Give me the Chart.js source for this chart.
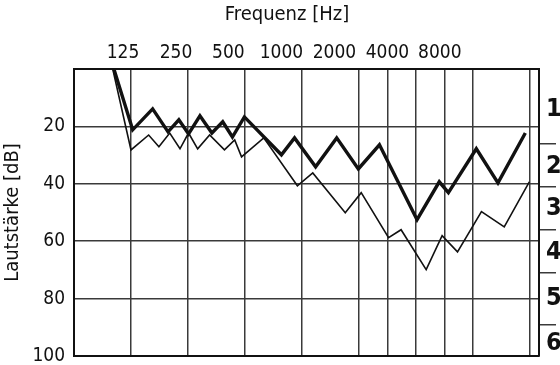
<!DOCTYPE html>
<html>
<head>
<meta charset="utf-8">
<script src="https://cdn.jsdelivr.net/npm/chart.js@4/dist/chart.umd.min.js"></script>
<style>
	html, body { margin: 0; padding: 0; background: #fff; }
	#wrap { width: 560px; height: 365px; }
</style>
</head>
<body>
<div id="wrap"><canvas id="audio-chart"></canvas></div>
<script>
// Frequenz-Achse in Oktavschritten (1 = 125 Hz, 2 = 250 Hz ... 7 = 8000 Hz)
const gridOctaves = [1, 2, 3, 4, 5, 5.5, 6, 6.5, 7, 8];
const freqLabelPos = [0.86, 1.79, 2.71, 3.64, 4.57, 5.50, 6.42];
const freqLabels = ["125", "250", "500", "1000", "2000", "4000", "8000"];

// Lautstärke in dB
const dbTicks = [0, 20, 40, 60, 80, 100];
const gradeBounds = [26, 41, 56, 71, 89];
const gradeCenters = [14, 34, 48.5, 64, 80, 95.5];
const gradeLabels = ["1", "2", "3", "4", "5", "6"];

// dicke Kurve
const boldX = [0.70, 1.03, 1.38, 1.65, 1.84, 2.01, 2.21, 2.42, 2.61, 2.78, 2.99, 3.64, 3.87, 4.24, 4.61, 4.99, 5.36, 6.02, 6.41, 6.57, 7.06, 7.44, 7.92];
const boldDb = [0, 21.2, 13.9, 21.9, 17.7, 22.6, 16.3, 22.3, 18.4, 23.7, 16.7, 29.9, 24.0, 34.1, 24.0, 34.8, 26.4, 52.5, 39.3, 43.1, 27.8, 39.7, 22.3];

// dünne Kurve
const thinX = [0.68, 1.00, 1.31, 1.49, 1.68, 1.86, 2.01, 2.17, 2.38, 2.64, 2.82, 2.94, 3.33, 3.92, 4.19, 4.76, 5.04, 5.52, 5.74, 6.18, 6.46, 6.73, 7.15, 7.55, 7.99];
const thinDb = [0, 28.2, 23.0, 27.1, 22.3, 27.8, 22.3, 27.8, 23.0, 28.2, 24.7, 30.6, 24.0, 40.7, 36.2, 50.1, 43.1, 58.8, 56.0, 69.9, 58.1, 63.7, 49.7, 55.0, 39.3];

const ink = "#111";
const gridInk = "#3a3a3a";
const narrow = "'DejaVu Sans Condensed', 'Liberation Sans Narrow', 'DejaVu Sans', sans-serif";

function toPoints(xs, ys) {
	return xs.map((x, i) => ({ x: x, y: ys[i] }));
}

// labels outside the plot should not push the plot area inwards
function noPadding(scale) {
	scale.paddingTop = 0;
	scale.paddingBottom = 0;
	scale.paddingLeft = 0;
	scale.paddingRight = 0;
}

const data = {
	datasets: [
		{
			label: "dick",
			data: toPoints(boldX, boldDb),
			borderColor: ink,
			borderWidth: 3.4,
			pointRadius: 0,
			tension: 0,
			borderJoinStyle: "miter",
			xAxisID: "x",
			yAxisID: "y",
		},
		{
			label: "dünn",
			data: toPoints(thinX, thinDb),
			borderColor: ink,
			borderWidth: 1.6,
			pointRadius: 0,
			tension: 0,
			borderJoinStyle: "miter",
			xAxisID: "x",
			yAxisID: "y",
		},
	],
};

const chartConfig = {
	type: "line",
	data: data,
	options: {
		responsive: true,
		maintainAspectRatio: false,
		animation: false,
		layout: { padding: { left: 14, right: 0, top: 0, bottom: 0 } },
		plugins: {
			legend: { display: false },
			tooltip: { enabled: false },
			title: {
				display: true,
				text: "Frequenz [Hz]",
				color: ink,
				font: { family: narrow, size: 20, weight: "normal" },
				padding: { top: 3, bottom: 0 },
			},
		},
		scales: {
			x: {
				type: "linear",
				position: "bottom",
				min: 0,
				max: 8.16,
				afterBuildTicks: (scale) => {
					scale.ticks = gridOctaves.map((v) => ({ value: v }));
				},
				afterFit: (scale) => {
					scale.height = 9;
					noPadding(scale);
				},
				ticks: { display: false },
				grid: { color: gridInk, lineWidth: 1.5, drawTicks: false },
				border: { display: true, color: ink, width: 2 },
			},
			x2: {
				type: "linear",
				position: "top",
				min: 0,
				max: 8.16,
				afterBuildTicks: (scale) => {
					scale.ticks = freqLabelPos.map((v) => ({ value: v }));
				},
				afterFit: (scale) => {
					scale.height = 42;
					noPadding(scale);
				},
				ticks: {
					color: ink,
					font: { family: narrow, size: 19 },
					padding: 4.5,
					maxRotation: 0,
					autoSkip: false,
					callback: (value, index) => freqLabels[index],
				},
				grid: { display: false, drawTicks: false },
				border: { display: true, color: ink, width: 2 },
			},
			y: {
				type: "linear",
				position: "left",
				reverse: true,
				min: 0,
				max: 100,
				afterBuildTicks: (scale) => {
					scale.ticks = dbTicks.map((v) => ({ value: v }));
				},
				afterFit: (scale) => {
					scale.width = 60;
					noPadding(scale);
				},
				ticks: {
					color: ink,
					font: { family: narrow, size: 19 },
					padding: 9,
					callback: (value) => (value === 0 ? "" : value),
				},
				grid: { color: gridInk, lineWidth: 1.5, drawTicks: false },
				border: { display: true, color: ink, width: 2 },
				title: {
					display: true,
					text: "Lautstärke [dB]",
					color: ink,
					font: { family: narrow, size: 20 },
					padding: { top: -13, bottom: 0 },
				},
			},
			y2: {
				type: "linear",
				position: "right",
				reverse: true,
				min: 0,
				max: 100,
				afterBuildTicks: (scale) => {
					let t = [];
					gradeBounds.forEach((v) => t.push({ value: v, bound: true }));
					gradeCenters.forEach((v, i) => t.push({ value: v, label: gradeLabels[i] }));
					scale.ticks = t;
				},
				afterFit: (scale) => {
					scale.width = 21;
					noPadding(scale);
				},
				ticks: {
					color: ink,
					font: { family: narrow, size: 25, weight: "bold" },
					padding: -10,
					autoSkip: false,
					callback: function (value, index) {
						let tick = this.ticks[index];
						return tick.bound ? "" : tick.label;
					},
				},
				grid: {
					drawOnChartArea: false,
					drawTicks: true,
					tickLength: 17,
					lineWidth: 1.5,
					color: (ctx) => (ctx.tick && ctx.tick.bound ? gridInk : "rgba(0,0,0,0)"),
				},
				border: { display: true, color: ink, width: 2 },
			},
		},
	},
};

let audioChart = new Chart(document.getElementById("audio-chart"), chartConfig);
</script>
</body>
</html>
